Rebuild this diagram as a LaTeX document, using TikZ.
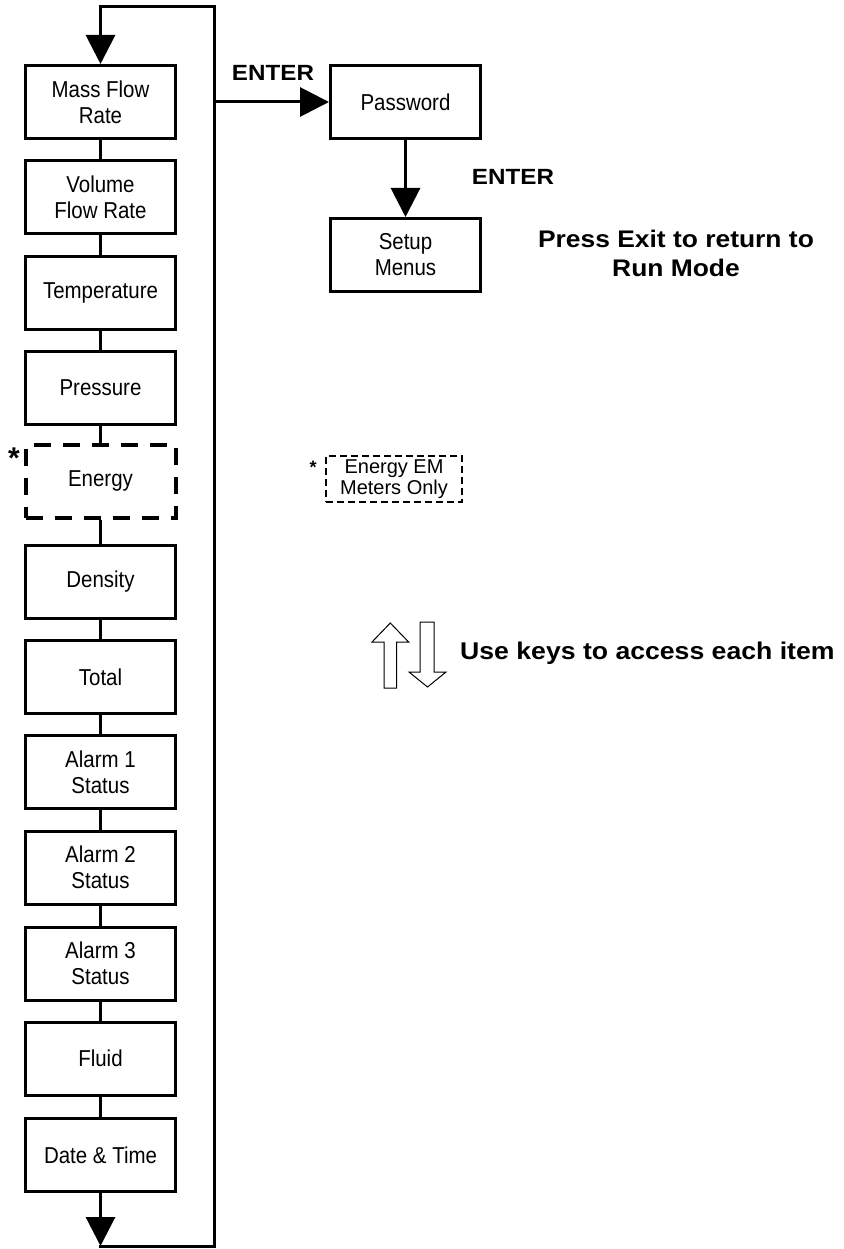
\documentclass[tikz,border=0pt]{standalone}
\usepackage{fontspec}
\setmainfont{Liberation Sans}
\newfontfamily\boxfont[FakeStretch=0.89]{Liberation Sans}
\newfontfamily\wbold[FakeStretch=1.1]{Liberation Sans}
\usetikzlibrary{arrows.meta}
\begin{document}
\begin{tikzpicture}[x=1pt,y=-1pt,
  item/.style={draw, line width=3pt, minimum width=150pt, minimum height=73pt,
    align=center, inner sep=0pt, font=\boxfont\fontsize{23}{26}\selectfont},
  dashitem/.style={item, line width=4pt, dash pattern=on 17pt off 12pt},
  conn/.style={line width=3pt},
  arr/.style={line width=3pt, -{Triangle[width=29pt,length=29pt]}},
  lbl/.style={inner sep=0pt, font=\wbold\bfseries\fontsize{22}{24}\selectfont},
  outarrow/.style={draw, line width=1pt, fill=white}]
\useasboundingbox (0,0) rectangle (843,1249);

% menu column
\node[item] (mfr) at (100.5,102) {Mass Flow\\Rate};
\node[item] (vol) at (100.5,197.5) {Volume\\Flow Rate};
\node[item] (tmp) at (100.5,293) {Temperature};
\node[item] (prs) at (100.5,388) {Pressure};
\node[dashitem] (eng) at (100.5,481) {Energy};
\node[item] (den) at (100.5,581.5) {Density};
\node[item] (tot) at (100.5,677) {Total};
\node[item] (al1) at (100.5,772) {Alarm 1\\Status};
\node[item] (al2) at (100.5,867.5) {Alarm 2\\Status};
\node[item] (al3) at (100.5,963.5) {Alarm 3\\Status};
\node[item] (fld) at (100.5,1058.5) {Fluid};
\node[item] (dat) at (100.5,1155) {Date \& Time};

\foreach \a/\b in {mfr/vol,vol/tmp,tmp/prs,prs/eng,eng/den,den/tot,tot/al1,al1/al2,al2/al3,al3/fld,fld/dat}
  \draw[conn] (\a.south) -- (\b.north);

% loop
\coordinate (topL) at (100.5,6.5);
\coordinate (topR) at (214,6.5);
\coordinate (botR) at (214,1246);
\coordinate (botL) at (100.5,1246);
\coordinate (entJ) at (214,102);
\draw[conn, line cap=rect] (topL) -- (topR) -- (botR) -- (botL);
\draw[arr] (topL) -- (mfr.north);
\draw[arr] (dat.south) -- (botL);

% setup branch
\node[item] (pwd) at (405.5,102) {Password};
\node[item] (set) at (405.5,255) {Setup\\Menus};
\draw[arr] (entJ) -- (pwd.west);
\draw[arr] (pwd.south) -- (set.north);
\node[lbl] (ent1) at (273,73) {ENTER};
\node[lbl] (ent2) at (513,177) {ENTER};
\node[lbl, align=center, font=\wbold\bfseries\fontsize{24}{29}\selectfont] (exit) at (676,253) {Press Exit to return to\\Run Mode};

% asterisks
\node[inner sep=0pt, font=\bfseries\fontsize{30}{30}\selectfont] (ast1) at (14,458) {*};

% legend
\node[draw, line width=2pt, dash pattern=on 7pt off 4pt, minimum width=136pt, minimum height=46pt,
  inner sep=0pt, align=center, font=\fontsize{20}{21}\selectfont] (leg) at (394,479) {Energy EM\\Meters Only};
\node[inner sep=0pt, font=\bfseries\fontsize{18}{18}\selectfont] (ast2) at (313,467) {*};

% up/down keys
\draw[outarrow] (384,688) -- (384,642) -- (372,642) -- (390.3,623) -- (408.6,642) -- (396.6,642) -- (396.6,688) -- cycle;
\draw[outarrow] (420,622) -- (420,672) -- (409,672) -- (427.5,687) -- (446,672) -- (434,672) -- (434,622) -- cycle;
\node[lbl, anchor=west, font=\wbold\bfseries\fontsize{24.2}{26}\selectfont] (keys) at (460,653) {Use keys to access each item};
\end{tikzpicture}
\end{document}
